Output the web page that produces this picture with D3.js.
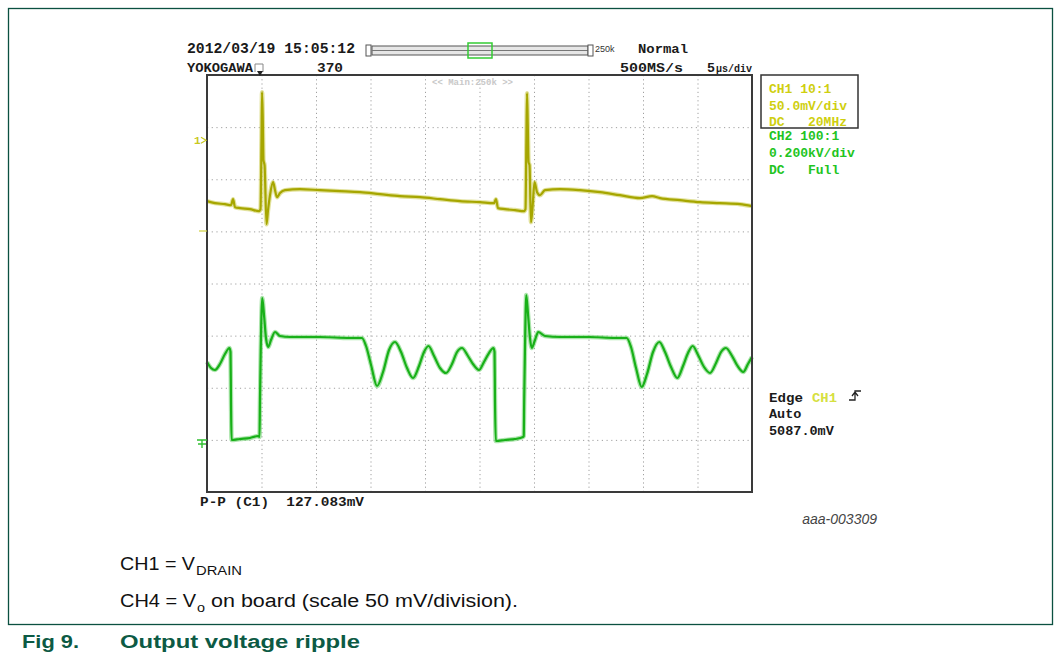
<!DOCTYPE html>
<html>
<head>
<meta charset="utf-8">
<script src="https://cdn.jsdelivr.net/npm/d3@7/dist/d3.min.js"></script>
<style>
  html, body { margin: 0; padding: 0; background: #fff; }
  svg { display: block; }
  text { white-space: pre; }
  .mono { font-family: "Liberation Mono", "DejaVu Sans Mono", monospace; font-weight: bold; }
  .cap { font-family: "Liberation Sans Narrow", "Liberation Sans", Arial, sans-serif; }
</style>
</head>
<body>
<svg id="chart" width="1061" height="662"></svg>
<script>
// ---------------- DATA ----------------
// Time axis: 5 µs/div, 10 divisions
const timeTicks = [0, 5, 10, 15, 20, 25, 30, 35, 40, 45, 50];
const divTicks = [-4, -3, -2, -1, 0, 1, 2, 3, 4];

// CH1 (yellow) : mV relative to CH1 marker, 50 mV/div
const ch1Time = [0.00,0.73,1.65,2.20,2.39,2.57,3.03,3.94,4.77,4.91,5.00,5.05,5.12,5.18,5.28,5.46,5.60,5.78,6.06,6.24,6.42,6.70,7.16,8.53,10.37,12.20,14.04,15.87,17.71,19.54,21.38,23.21,25.05,26.33,26.51,26.70,27.34,28.26,29.08,29.22,29.30,29.36,29.43,29.50,29.59,29.72,29.86,30.05,30.28,30.55,31.01,32.39,34.22,36.06,37.89,39.72,40.83,41.56,43.39,45.23,47.06,48.90,50.00];
const ch1mV = [-58.5,-60.4,-61.4,-62.3,-56.6,-64.3,-65.2,-66.2,-68.1,-66.2,0,46.0,19.2,-19.2,-24.0,-80.6,-67.1,-52.8,-40.3,-48.0,-54.7,-50.8,-48.0,-47.0,-48.0,-48.9,-49.9,-51.8,-53.7,-54.7,-56.6,-58.5,-59.5,-60.4,-56.6,-65.2,-66.2,-67.1,-68.1,-66.2,0,45.1,14.4,-21.1,-24.0,-78.7,-65.2,-40.3,-49.9,-52.8,-48.0,-47.0,-48.0,-49.9,-52.8,-55.6,-53.7,-55.6,-57.6,-59.5,-60.4,-61.4,-63.3];

// CH2 (green) : volts relative to CH2 ground marker, 0.200 kV/div
const ch2Time = [0.00,0.37,0.73,1.19,1.65,2.06,2.16,2.20,2.25,3.03,3.94,4.68,4.82,4.86,4.93,5.07,5.23,5.41,5.62,5.87,6.24,6.70,7.61,10.37,13.12,14.22,14.59,15.05,15.60,16.15,16.70,17.25,17.80,18.35,18.90,19.45,19.91,20.32,20.83,21.38,21.93,22.48,22.94,23.39,23.94,24.40,24.95,25.41,25.87,26.28,26.38,26.42,26.49,27.34,28.26,28.99,29.06,29.10,29.17,29.29,29.45,29.63,29.79,30.09,30.39,31.01,32.39,35.14,37.43,38.50,38.90,39.36,39.88,40.37,40.92,41.50,42.02,42.57,43.15,43.67,44.13,44.56,45.05,45.60,46.15,46.70,47.16,47.61,48.17,48.62,49.20,49.63,50.00];
const ch2V = [310.8,287.8,280.1,303.1,341.5,364.5,349.2,165.0,11.5,15.3,19.2,26.9,23.0,165.0,356.8,556.4,491.1,402.9,368.3,395.2,425.9,410.6,406.7,406.7,402.9,402.9,372.2,299.3,218.7,272.4,356.8,387.5,349.2,287.8,249.4,295.4,349.2,372.2,333.8,287.8,268.6,303.1,349.2,364.5,333.8,303.1,280.1,310.8,345.3,364.5,349.2,165.0,7.7,11.5,15.3,23.0,26.9,165.0,356.8,567.9,495.0,402.9,364.5,395.2,425.9,410.6,406.7,406.7,402.9,402.9,368.3,287.8,214.9,264.7,349.2,387.5,349.2,291.6,249.4,295.4,345.3,372.2,337.6,291.6,268.6,307.0,349.2,364.5,333.8,299.3,272.4,303.1,330.0];

// Channel settings
const ch1PerDiv = 50;     // mV/div
const ch1OffsetDiv = 2.75;
const ch2PerDiv = 200;    // V/div
const ch2OffsetDiv = -3.06;

// Texts
const headerDate = "2012/03/19 15:05:12";
const headerBrand = "YOKOGAWA";
const headerCount = "370";
const headerMode = "Normal";
const headerRate = "500MS/s";
const headerRec = "250k";
const ch1Info = ["CH1 10:1", "50.0mV/div", "DC   20MHz"];
const ch2Info = ["CH2 100:1", "0.200kV/div", "DC   Full"];
const trigInfo = ["Auto", "5087.0mV"];
const measText = "P-P (C1)  127.083mV";
const figId = "aaa-003309";

// ---------------- LAYOUT ----------------
const svg = d3.select("#chart");
const P = { left: 207, right: 752, top: 75, bottom: 492 };

const x = d3.scaleLinear().domain([0, 50]).range([P.left, P.right]);
const yDiv = d3.scaleLinear().domain([-4, 4]).range([P.bottom, P.top]);
const y1 = d3.scaleLinear()
  .domain([(-4 - ch1OffsetDiv) * ch1PerDiv, (4 - ch1OffsetDiv) * ch1PerDiv])
  .range([P.bottom, P.top]);
const y2 = d3.scaleLinear()
  .domain([(-4 - ch2OffsetDiv) * ch2PerDiv, (4 - ch2OffsetDiv) * ch2PerDiv])
  .range([P.bottom, P.top]);

// Outer figure frame
svg.append("rect").attr("x", 8.5).attr("y", 8.5).attr("width", 1044).attr("height", 616)
  .attr("fill", "none").attr("stroke", "#0b5040").attr("stroke-width", 1.3);

// Grid
const gx = svg.append("g").attr("transform", `translate(0,${P.bottom})`)
  .call(d3.axisBottom(x).tickValues(timeTicks).tickSize(-(P.bottom - P.top)).tickFormat(""));
gx.select(".domain").remove();
gx.selectAll(".tick line").attr("stroke", "#a0a0a0").attr("stroke-dasharray", "1.2,3");

const gy = svg.append("g").attr("transform", `translate(${P.left},0)`)
  .call(d3.axisLeft(yDiv).tickValues(divTicks).tickSize(-(P.right - P.left)).tickFormat(""));
gy.select(".domain").remove();
gy.selectAll(".tick line").attr("stroke", "#a0a0a0").attr("stroke-dasharray", "1.2,3.5");

// faint zoom indicator text
svg.append("text").attr("x", 432).attr("y", 85).attr("class", "mono")
  .attr("font-size", 9).attr("font-weight", "normal").attr("fill", "#c8c8c8").text("<< Main:250k >>");

// Traces
function drawTrace(times, vals, ys, outer, inner) {
  const data = times.map((t, i) => [t, vals[i]]);
  const line = d3.line().x(d => x(d[0])).y(d => ys(d[1])).curve(d3.curveMonotoneX);
  svg.append("path").datum(data).attr("d", line).attr("fill", "none")
    .attr("stroke", outer).attr("stroke-width", 4.5).attr("stroke-linejoin", "round").attr("opacity", 0.6);
  svg.append("path").datum(data).attr("d", line).attr("fill", "none")
    .attr("stroke", inner).attr("stroke-width", 2.2).attr("stroke-linejoin", "round");
}
drawTrace(ch1Time, ch1mV, y1, "#cfcf5a", "#a6a600");
drawTrace(ch2Time, ch2V, y2, "#74d474", "#18b018");

// Plot frame
svg.append("rect").attr("x", P.left).attr("y", P.top)
  .attr("width", P.right - P.left).attr("height", P.bottom - P.top)
  .attr("fill", "none").attr("stroke", "#3a3a3a").attr("stroke-width", 2);

// Channel markers on the left
const m1 = y1(0);
svg.append("text").attr("x", 194).attr("y", m1 + 4).attr("class", "mono")
  .attr("font-size", 11).attr("fill", "#c8c820").text("1");
svg.append("path").attr("d", `M201,${m1-3} L206,${m1} L201,${m1+3}`).attr("fill", "none")
  .attr("stroke", "#c8c820").attr("stroke-width", 1.2);
svg.append("line").attr("x1", 199).attr("x2", 207).attr("y1", 231).attr("y2", 231)
  .attr("stroke", "#d0d040").attr("stroke-width", 1.2);
const m2 = y2(0);
svg.append("path").attr("d", `M197,${m2-3} L207,${m2-3} M202,${m2-3} L202,${m2+5} M198,${m2+1} L206,${m2+1}`)
  .attr("fill", "none").attr("stroke", "#30c030").attr("stroke-width", 1.4);

// Header
function monoText(txt, xx, yy, len, size, fill) {
  const t = svg.append("text").attr("x", xx).attr("y", yy).attr("class", "mono")
    .attr("font-size", size).attr("fill", fill || "#1a1a1a").text(txt);
  if (len) t.attr("textLength", len).attr("lengthAdjust", "spacingAndGlyphs");
  return t;
}
monoText(headerDate, 187, 53, 168, 14.5);
monoText(headerBrand, 187, 72, 66, 13.5);
monoText(headerCount, 317, 72, 26, 13.5);
monoText(headerMode, 638, 53, 50, 13.5);
monoText(headerRate, 620, 72, 63, 13.5);
monoText("5", 707, 72, 8, 13.5);
svg.append("text").attr("x", 716).attr("y", 72).attr("class", "mono").attr("font-size", 10)
  .attr("fill", "#1a1a1a").attr("textLength", 36).attr("lengthAdjust", "spacingAndGlyphs").text("µs/div");
svg.append("text").attr("x", 595).attr("y", 52).attr("font-family", "Liberation Sans, Arial")
  .attr("font-size", 9).attr("fill", "#333").text(headerRec);

// trigger position pointer
svg.append("path").attr("d", "M255,72 L255,64 L263,64 L263,72").attr("fill", "none")
  .attr("stroke", "#888").attr("stroke-width", 1);
svg.append("path").attr("d", "M257,71 L263,71 L260,76 Z").attr("fill", "#222");

// Scroll bar
svg.append("rect").attr("x", 366).attr("y", 45).attr("width", 5).attr("height", 11)
  .attr("fill", "#fff").attr("stroke", "#555").attr("stroke-width", 1);
svg.append("rect").attr("x", 372).attr("y", 46).attr("width", 216).attr("height", 9)
  .attr("fill", "#e6e6e6").attr("stroke", "#555").attr("stroke-width", 1);
svg.append("line").attr("x1", 372).attr("x2", 588).attr("y1", 50.5).attr("y2", 50.5)
  .attr("stroke", "#777").attr("stroke-width", 1);
svg.append("rect").attr("x", 588).attr("y", 45).attr("width", 5).attr("height", 11)
  .attr("fill", "#fff").attr("stroke", "#555").attr("stroke-width", 1);
svg.append("rect").attr("x", 468).attr("y", 43).attr("width", 24).attr("height", 15)
  .attr("fill", "none").attr("stroke", "#33cc33").attr("stroke-width", 1.5);

// Right info panel
svg.append("rect").attr("x", 761).attr("y", 75).attr("width", 97).attr("height", 53)
  .attr("fill", "none").attr("stroke", "#333").attr("stroke-width", 1.5);
ch1Info.forEach((s, i) => monoText(s, 769, 93 + i * 16.5, null, 13, "#cfcf10").attr("font-weight", "normal"));
ch2Info.forEach((s, i) => monoText(s, 769, 140 + i * 17, null, 13, "#22c422").attr("font-weight", "normal"));

// Trigger info
monoText("Edge", 769, 402, 34, 13.5);
monoText("CH1", 812, 402, 25, 13, "#d6e040").attr("font-weight", "normal");
svg.append("path").attr("d", "M849,400 L855,400 L855,391 L861,391 M852,396 L855,392 L858,396")
  .attr("fill", "none").attr("stroke", "#222").attr("stroke-width", 1.3);
trigInfo.forEach((s, i) => monoText(s, 769, 418 + i * 17, null, 13.5));

// Measurement
monoText(measText, 200, 506, 164, 13.5);

// Figure id
svg.append("text").attr("x", 877).attr("y", 524).attr("text-anchor", "end")
  .attr("font-family", "Liberation Sans, Arial").attr("font-style", "italic")
  .attr("font-size", 14).attr("fill", "#444").text(figId);

// Captions
function capText(txt, xx, yy, size, len, opts) {
  const t = svg.append("text").attr("x", xx).attr("y", yy).attr("class", "cap")
    .attr("font-size", size).attr("fill", (opts && opts.fill) || "#111").text(txt);
  if (len) t.attr("textLength", len).attr("lengthAdjust", "spacingAndGlyphs");
  if (opts && opts.bold) t.attr("font-weight", "bold");
  return t;
}
capText("CH1 = V", 120, 570, 18, 75);
capText("DRAIN", 196, 575, 13, 46);
capText("CH4 = V", 120, 607, 18, 76);
capText("o", 197, 612, 13, 8);
capText("on board (scale 50 mV/division).", 211, 607, 18, 307);
capText("Fig 9.", 22, 648, 18, 57, { bold: true, fill: "#0c5a44" });
capText("Output voltage ripple", 120, 648, 18, 240, { bold: true, fill: "#0c5a44" });
</script>
</body>
</html>
